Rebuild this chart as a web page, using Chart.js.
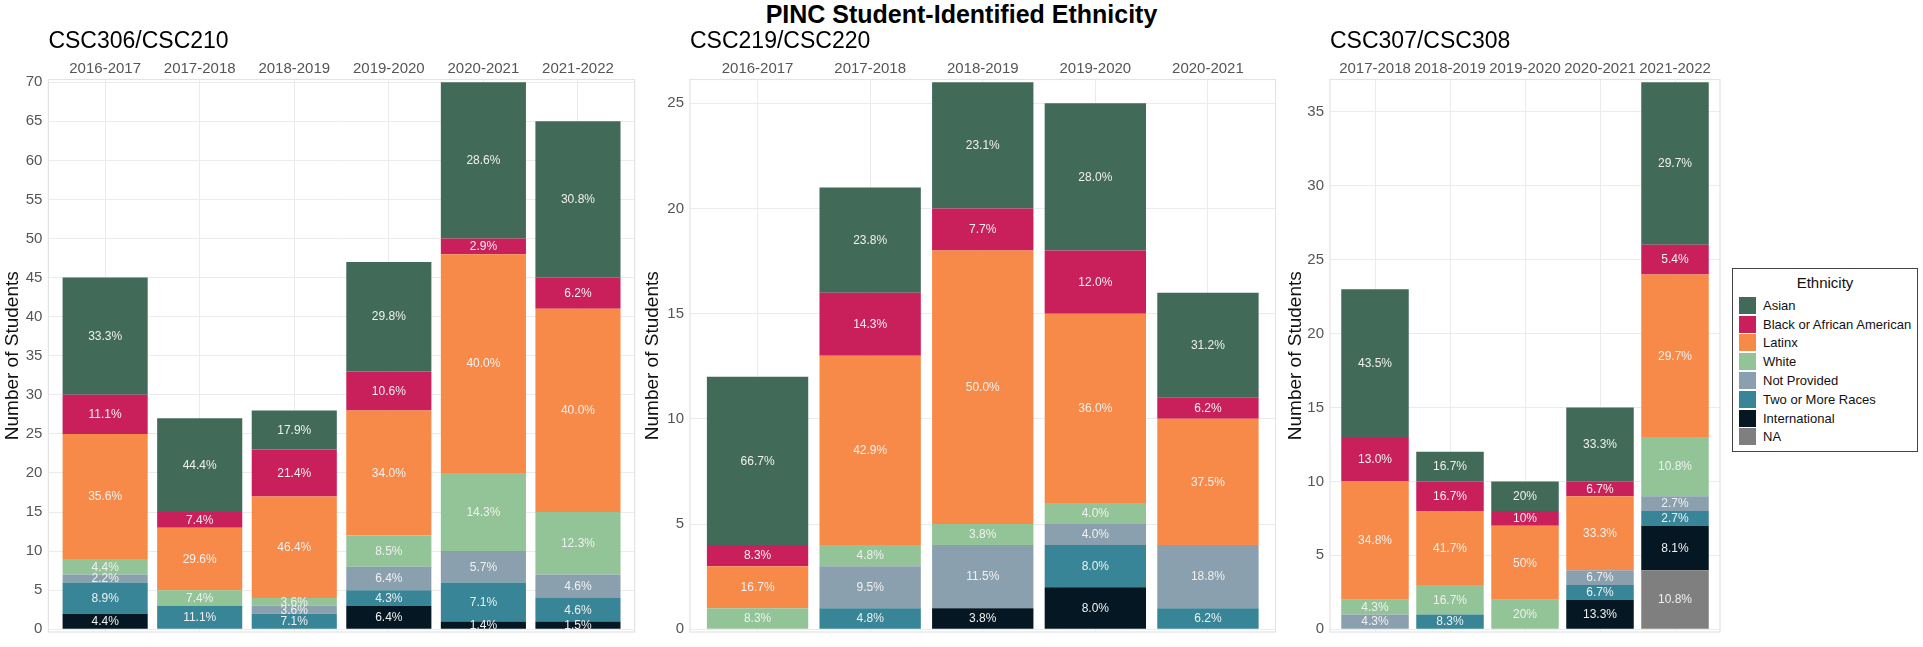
<!DOCTYPE html>
<html>
<head>
<meta charset="utf-8">
<script src="https://cdn.jsdelivr.net/npm/chart.js@4.4.1/dist/chart.umd.min.js"></script>
<style>
html,body{margin:0;padding:0;background:#fff;}
#wrap{position:relative;width:1923px;height:647px;overflow:hidden;font-family:"Liberation Sans",Arial,sans-serif;}
canvas{position:absolute;top:0;}
#title{position:absolute;left:0;top:1px;width:1923px;text-align:center;font-weight:bold;font-size:25px;line-height:26px;color:#000;white-space:nowrap;}
#legend{position:absolute;left:1732px;top:268px;width:184px;height:182px;border:1px solid #444;background:#fff;}
#legend .lt{position:absolute;left:0;width:184px;top:5px;text-align:center;font-size:15px;line-height:18px;color:#111;}
#legend .sw{position:absolute;left:6px;width:17px;height:17px;}
#legend .lb{position:absolute;left:30px;font-size:13px;line-height:17px;color:#111;white-space:nowrap;}
</style>
</head>
<body>
<div id="wrap">
  <div id="title">PINC Student-Identified Ethnicity</div>
  <canvas id="c1" width="640" height="647" style="left:0px"></canvas>
  <canvas id="c2" width="640" height="647" style="left:640px"></canvas>
  <canvas id="c3" width="450" height="647" style="left:1280px"></canvas>
  <div id="legend"></div>
</div>
<script>
// ---- categories (stacking order bottom -> top) ----
const ethnicities = ["NA","International","Two or More Races","Not Provided","White","Latinx","Black or African American","Asian"];
const ethnicityColors = ["#7F7F7F","#041722","#378596","#8BA0AE","#92C497","#F78A48","#C91F5A","#416A59"];

// ---- Panel 1: CSC306/CSC210 ----
const p1Title = "CSC306/CSC210";
const p1Years = ["2016-2017","2017-2018","2018-2019","2019-2020","2020-2021","2021-2022"];
const p1NA            = [0,0,0,0,0,0];
const p1International = [2,0,0,3,1,1];
const p1TwoOrMore     = [4,3,2,2,5,3];
const p1NotProvided   = [1,0,1,3,4,3];
const p1White         = [2,2,1,4,10,8];
const p1Latinx        = [16,8,13,16,28,26];
const p1Black         = [5,2,6,5,2,4];
const p1Asian         = [15,12,5,14,20,20];
const p1Decimals      = [1,1,1,1,1,1];
const p1YTicks        = [0,5,10,15,20,25,30,35,40,45,50,55,60,65,70];

// ---- Panel 2: CSC219/CSC220 ----
const p2Title = "CSC219/CSC220";
const p2Years = ["2016-2017","2017-2018","2018-2019","2019-2020","2020-2021"];
const p2NA            = [0,0,0,0,0];
const p2International = [0,0,1,2,0];
const p2TwoOrMore     = [0,1,0,2,1];
const p2NotProvided   = [0,2,3,1,3];
const p2White         = [1,1,1,1,0];
const p2Latinx        = [2,9,13,9,6];
const p2Black         = [1,3,2,3,1];
const p2Asian         = [8,5,6,7,5];
const p2Decimals      = [1,1,1,1,1];
const p2YTicks        = [0,5,10,15,20,25];

// ---- Panel 3: CSC307/CSC308 ----
const p3Title = "CSC307/CSC308";
const p3Years = ["2017-2018","2018-2019","2019-2020","2020-2021","2021-2022"];
const p3NA            = [0,0,0,0,4];
const p3International = [0,0,0,2,3];
const p3TwoOrMore     = [0,1,0,1,1];
const p3NotProvided   = [1,0,0,1,1];
const p3White         = [1,2,2,0,4];
const p3Latinx        = [8,5,5,5,11];
const p3Black         = [3,2,1,1,2];
const p3Asian         = [10,2,2,5,11];
const p3Decimals      = [1,1,0,1,1];
const p3YTicks        = [0,5,10,15,20,25,30,35];

const yTitle = "Number of Students";
const legendTitle = "Ethnicity";

// ---------- helpers ----------
function fmtPct(v,total,dec){
  const f=Math.pow(10,dec);
  const x=v/total*100*f;
  let r=Math.round(x);
  const fl=Math.floor(x);
  if(Math.abs(x-fl-0.5)<1e-9){ r=(fl%2===0)?fl:fl+1; }
  return (r/f).toFixed(dec)+'%';
}

const frame = {
  id:'frame',
  afterDatasetsDraw(chart){
    const {ctx,chartArea:a}=chart;
    ctx.save();
    ctx.strokeStyle='#E3E3E3';
    ctx.lineWidth=1.2;
    ctx.strokeRect(a.left,a.top,a.right-a.left,a.bottom-a.top);
    ctx.restore();
  }
};

const pctLabels = {
  id:'pctLabels',
  afterDatasetsDraw(chart,args,opts){
    const {ctx}=chart;
    const ds=chart.data.datasets;
    const n=chart.data.datasets[0].data.length;
    ctx.save();
    ctx.font='12px "Liberation Sans", Arial, sans-serif';
    ctx.fillStyle='#F0F0F0';
    ctx.textAlign='center';
    ctx.textBaseline='middle';
    for(let j=0;j<n;j++){
      let total=0;
      ds.forEach(d=>{ total+=d.data[j].y; });
      ds.forEach((d,i)=>{
        const v=d.data[j].y;
        if(!v) return;
        const el=chart.getDatasetMeta(i).data[j];
        const cy=(el.y+el.base)/2;
        ctx.fillText(fmtPct(v,total,opts.decimals[j]),el.x,cy+0.5);
      });
    }
    ctx.restore();
  }
};

function makePanel(id, title, years, series, decimals, yTicks, yWidth, padRight, yTitlePad){
  const n=years.length;
  const totals=years.map((_,j)=>series.reduce((s,a)=>s+a[j],0));
  const maxT=Math.max(...totals);
  const datasets=ethnicities.map((name,i)=>({
    label:name,
    data:series[i].map((v,j)=>({x:j,y:v})),
    backgroundColor:ethnicityColors[i],
    borderWidth:0,
    categoryPercentage:1,
    barPercentage:0.9
  }));
  return new Chart(document.getElementById(id),{
    type:'bar',
    data:{datasets},
    plugins:[frame,pctLabels],
    options:{
      responsive:false,
      animation:false,
      devicePixelRatio:1,
      layout:{padding:{left:0,right:padRight,top:0,bottom:7}},
      plugins:{
        legend:{display:false},
        tooltip:{enabled:false},
        title:{display:true,text:title,align:'start',fullSize:false,color:'#000',
               font:{family:'"Liberation Sans", Arial, sans-serif',size:23,weight:'normal'},
               padding:{top:27.5,bottom:0}},
        pctLabels:{decimals}
      },
      scales:{
        x:{
          type:'linear',position:'top',stacked:true,offset:false,
          min:-0.6,max:n-0.4,
          afterBuildTicks:(s)=>{ s.ticks=years.map((_,i)=>({value:i})); },
          afterFit:(s)=>{ s.height=24.4; },
          ticks:{autoSkip:false,maxRotation:0,minRotation:0,padding:1.5,color:'#555',
                 font:{family:'"Liberation Sans", Arial, sans-serif',size:15},
                 callback:(v)=>years[v]},
          grid:{color:'#EBEBEB',lineWidth:1,drawTicks:false,offset:false},
          border:{display:false}
        },
        y:{
          type:'linear',stacked:true,
          min:-maxT*0.005,max:maxT*1.005,
          afterBuildTicks:(s)=>{ s.ticks=yTicks.map(v=>({value:v})); },
          afterFit:(s)=>{ s.width=yWidth; },
          ticks:{padding:6,color:'#555',
                 font:{family:'"Liberation Sans", Arial, sans-serif',size:15},
                 callback:(v)=>String(v)},
          grid:{color:'#EBEBEB',lineWidth:1,drawTicks:false},
          border:{display:false},
          title:{display:true,text:yTitle,color:'#111',
                 font:{family:'"Liberation Sans", Arial, sans-serif',size:19},
                 padding:{top:yTitlePad,bottom:0}}
        }
      }
    }
  });
}

makePanel('c1',p1Title,p1Years,[p1NA,p1International,p1TwoOrMore,p1NotProvided,p1White,p1Latinx,p1Black,p1Asian],p1Decimals,p1YTicks,48.4,5.3,1.2);
makePanel('c2',p2Title,p2Years,[p2NA,p2International,p2TwoOrMore,p2NotProvided,p2White,p2Latinx,p2Black,p2Asian],p2Decimals,p2YTicks,50,4.5,1.6);
makePanel('c3',p3Title,p3Years,[p3NA,p3International,p3TwoOrMore,p3NotProvided,p3White,p3Latinx,p3Black,p3Asian],p3Decimals,p3YTicks,50,10,4.4);

// ---- legend (HTML, built from the category arrays) ----
(function(){
  const lg=document.getElementById('legend');
  const t=document.createElement('div'); t.className='lt'; t.textContent=legendTitle; lg.appendChild(t);
  const order=ethnicities.map((e,i)=>i).reverse();
  order.forEach((idx,k)=>{
    const top=27.7+k*18.8;
    const sw=document.createElement('div'); sw.className='sw';
    sw.style.top=top+'px'; sw.style.background=ethnicityColors[idx]; lg.appendChild(sw);
    const lb=document.createElement('div'); lb.className='lb';
    lb.style.top=top+'px'; lb.textContent=ethnicities[idx]; lg.appendChild(lb);
  });
})();
</script>
</body>
</html>
